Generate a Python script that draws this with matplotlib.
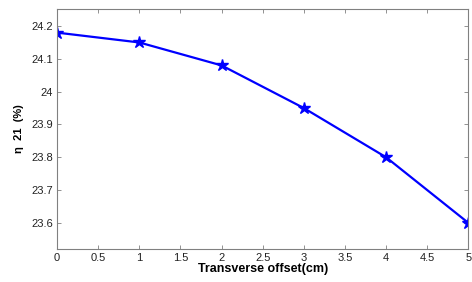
import matplotlib
matplotlib.use("Agg")
import matplotlib.pyplot as plt

offset = [0, 1, 2, 3, 4, 5]
eta = [24.18, 24.15, 24.08, 23.95, 23.80, 23.60]
xticks = [0, 0.5, 1, 1.5, 2, 2.5, 3, 3.5, 4, 4.5, 5]
yticks = [23.6, 23.7, 23.8, 23.9, 24.0, 24.1, 24.2]
ytick_labels = ["23.6", "23.7", "23.8", "23.9", "24", "24.1", "24.2"]

plt.rcParams["font.family"] = ["Liberation Sans", "DejaVu Sans"]

fig = plt.figure(figsize=(4.72, 2.82), dpi=100)
ax = fig.add_axes([0.121, 0.117, 0.871, 0.851])

ax.plot(offset, eta, color="#0000ff", lw=1.6, marker="*", ms=9)

ax.set_xlim(0, 5)
ax.set_ylim(23.52, 24.252)
ax.set_xticks(xticks)
ax.set_xticklabels([f"{t:g}" for t in xticks])
ax.set_yticks(yticks)
ax.set_yticklabels(ytick_labels)
ax.tick_params(direction="in", length=3, width=0.6, color="#808080",
               labelsize=8, top=True, right=True, pad=3, labelcolor="#222222")
for s in ax.spines.values():
    s.set_color("#808080")
    s.set_linewidth(0.8)

ax.set_xlabel("Transverse offset(cm)", fontsize=9, fontweight="bold", labelpad=0)
ax.set_ylabel("η  21  (%)", fontsize=8, fontweight="bold", labelpad=5)

fig.savefig("out.png", dpi=100)
